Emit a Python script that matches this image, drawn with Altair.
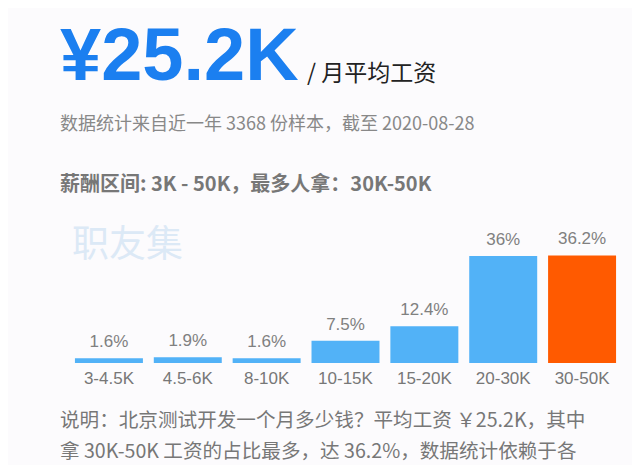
import altair as alt
import pandas as pd

# ---- data ----
categories = ["3-4.5K", "4.5-6K", "8-10K", "10-15K", "15-20K", "20-30K", "30-50K"]
shares = [1.6, 1.9, 1.6, 7.5, 12.4, 36, 36.2]
share_labels = ["1.6%", "1.9%", "1.6%", "7.5%", "12.4%", "36%", "36.2%"]
is_top = [False, False, False, False, False, False, True]

header_value = "¥25.2K"
header_unit = "/ 月平均工资"
subtitle = "数据统计来自近一年 3368 份样本，截至 2020-08-28"
range_line = "薪酬区间: 3K - 50K，最多人拿：30K-50K"
watermark = "职友集"
note_lines = [
    "说明：北京测试开发一个月多少钱？平均工资 ￥25.2K，其中",
    "拿 30K-50K 工资的占比最多，达 36.2%，数据统计依赖于各",
]

FONT = "Liberation Sans, Noto Sans CJK SC, sans-serif"
CJK = "Noto Sans CJK SC, Liberation Sans, sans-serif"

W, H = 552, 355

df = pd.DataFrame({"range": categories, "share": shares, "label": share_labels, "top": is_top})

x = alt.X(
    "range:N",
    sort=categories,
    scale=alt.Scale(paddingInner=0.138, paddingOuter=0.069),
    axis=alt.Axis(
        title=None, domain=False, ticks=False, grid=False, labelAngle=0,
        labelPadding=7, labelFontSize=17, labelColor="#777777", labelFont=FONT,
    ),
)
y = alt.Y("share:Q", scale=alt.Scale(domain=[0, 119.5], nice=False), axis=None)

base = alt.Chart(df)
bars = base.mark_bar().encode(
    x=x,
    y=y,
    color=alt.when(alt.datum.top).then(alt.value("#ff5a00")).otherwise(alt.value("#52b2f7")),
)
vals = base.mark_text(
    baseline="alphabetic", dy=-11, fontSize=17, color="#808080", font=FONT
).encode(x=x, y=y, text="label:N")


def note(text, xp, yp, size, color, weight="normal", font=CJK):
    return alt.Chart(pd.DataFrame({"t": [text]})).mark_text(
        align="left", baseline="alphabetic", fontSize=size, color=color,
        fontWeight=weight, font=font,
    ).encode(x=alt.value(xp), y=alt.value(yp), text="t:N")


layers = [
    note(watermark, 2.5, 249, 37, "#dce9f6"),
    bars,
    vals,
    note(header_value, -9.5, 72, 74, "#1b7ff0", "bold", FONT),
    note(header_unit, 237.5, 73, 23, "#222222"),
    note(subtitle, -9.5, 122, 18, "#888888"),
    note(range_line, -9.5, 183, 20, "#777777", "bold"),
    note(note_lines[0], -9.5, 419, 19.6, "#777777"),
    note(note_lines[1], -9.5, 450, 19.6, "#777777"),
]

chart = alt.layer(*layers).properties(
    width=W,
    height=H,
    padding={"left": 61.5, "top": 0, "right": 10, "bottom": 102},
    autosize=alt.AutoSizeParams(type="none"),
    background="#fcfbfd",
).configure_view(stroke=None)

chart.save("out.html", embed_options={"renderer": "svg", "actions": False})
